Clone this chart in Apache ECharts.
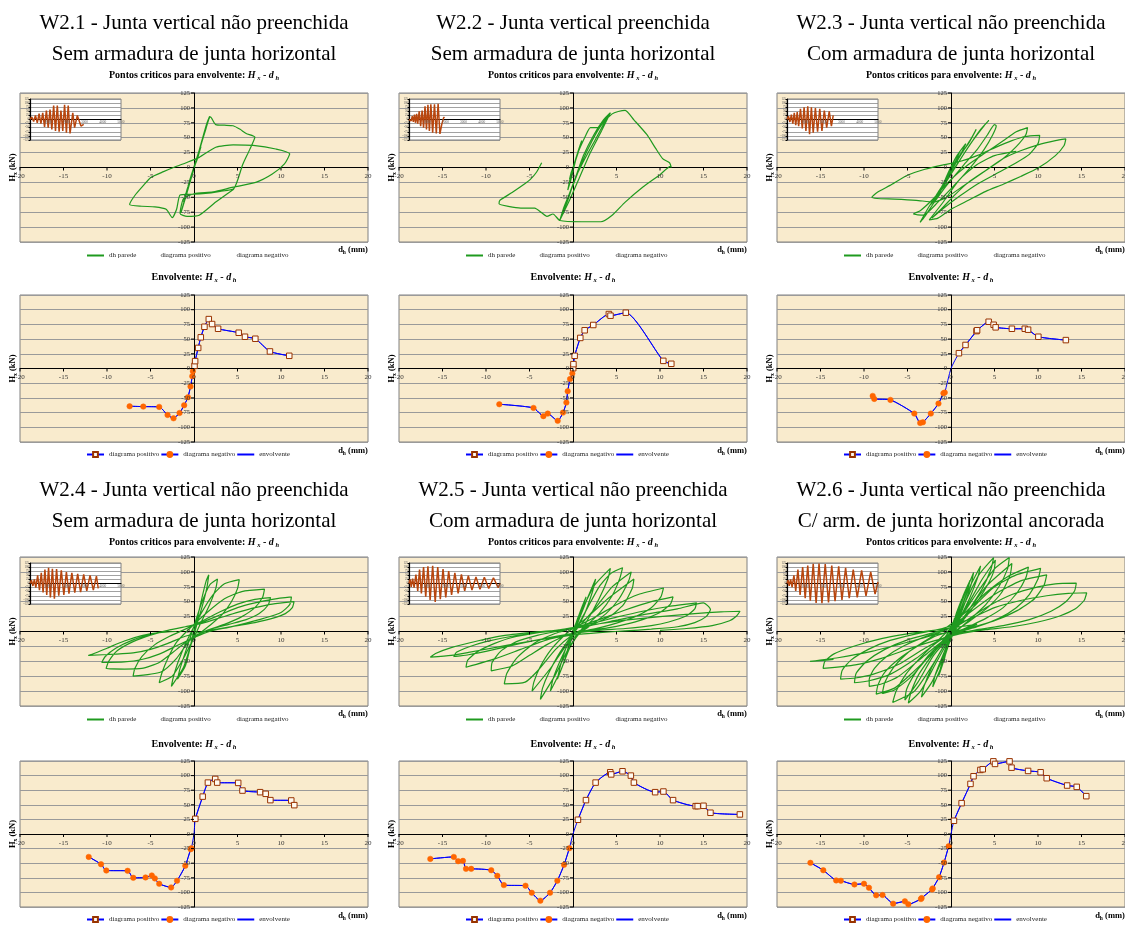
<!DOCTYPE html>
<html><head><meta charset="utf-8">
<script src="https://cdn.jsdelivr.net/npm/echarts@6/dist/echarts.min.js"></script>
<style>html,body{margin:0;padding:0;background:#fff}#c{width:1125px;height:925px}</style>
</head><body><div id="c"></div>
<script>
const F = 'Liberation Serif';
const X_TICKS = [-20,-15,-10,-5,0,5,10,15,20];
const Y_TICKS = [-125,-100,-75,-50,-25,0,25,50,75,100,125];
const INSET_X_TICKS = [0,1000,2000,3000,4000,5000];

const TITLE1 = ['W2.1 - Junta vertical não preenchida','W2.2 - Junta vertical preenchida','W2.3 - Junta vertical não preenchida','W2.4 - Junta vertical não preenchida','W2.5 - Junta vertical não preenchida','W2.6 - Junta vertical não preenchida'];
const TITLE2 = ['Sem armadura de junta horizontal','Sem armadura de junta horizontal','Com armadura de junta horizontal','Sem armadura de junta horizontal','Com armadura de junta horizontal','C/ arm. de junta horizontal ancorada'];
const LEG_TOP = ['dh parede','diagrama positivo ','diagrama negativo '];
const LEG_ENV = ['diagrama positivo','diagrama negativo','envolvente'];

// hysteresis curves dh (mm), H (kN)
const hystW21 = [[0,0],[0.4,15],[0.8,35],[0.3,12],[-0.3,-12],[-0.7,-32],[-0.3,-12],[0.3,12],[1.0,48],[1.4,66],[0.8,38],[-0.2,-8],[-0.8,-40],[-1.2,-58],[-0.7,-32],[0.2,8],[1.0,50],[1.5,75],[1.8,86],[1.3,62],[0.4,18],[-0.5,-25],[-1.1,-55],[-1.5,-76],[-1.0,-52],[-0.2,-12],[0.6,28],[1.3,65],[1.9,85],[2.5,72],[3.5,71],[4.5,70],[5.3,64],[6.0,57],[7.0,51],[6.4,30],[5.6,5],[4.6,-35],[3.0,-40],[1.0,-44],[-0.5,-45],[-1.6,-46],[-2.0,-70],[-2.5,-84],[-3.2,-70],[-4.5,-66],[-6.0,-65],[-7.4,-62],[-6.8,-47],[-5.8,-30],[-5.0,-17],[-3.5,-7],[-2.0,2],[-0.9,8],[0.6,17],[2.5,34],[4.5,38],[6.8,37],[9.4,31],[11.0,23],[10.4,6],[9.0,-11],[7.1,-25],[4.5,-33],[2.2,-41],[0.0,-44],[-1.2,-52],[-1.6,-77],[-0.8,-82],[0.6,-80],[2.5,-58],[4.6,-36]];
const hystW22 = [[0,0],[0.3,12],[0.6,25],[0.2,8],[-0.2,-8],[-0.4,-20],[-0.1,-5],[0.4,18],[1.0,45],[0.6,28],[-0.2,-10],[-0.6,-38],[-0.2,-18],[0.5,22],[1.5,55],[2.0,67],[2.9,67],[3.5,78],[4.2,91],[3.6,75],[2.5,45],[1.2,10],[0.2,-20],[-0.6,-55],[-1.2,-76],[-0.7,-55],[0.2,-20],[1.2,20],[2.4,55],[3.5,80],[4.3,92],[3.3,62],[2.0,25],[0.8,-15],[-0.4,-55],[-1.5,-88],[-1.0,-65],[0,-30],[1.0,8],[2.2,45],[3.3,72],[4.5,90],[5.2,94],[6.0,96],[7.0,80],[8.5,55],[9.5,32],[10.3,15],[11.1,8],[11.3,0],[11.2,2],[10.0,-12],[8.0,-33],[6.0,-58],[4.5,-80],[3.2,-91],[1.0,-91],[-1.5,-89],[-2.3,-78],[-3.0,-82],[-3.6,-76],[-4.4,-68],[-6.0,-68],[-8.5,-61],[-8.4,-55],[-7.0,-42],[-5.5,-27],[-4.9,-20],[-4.2,-8],[-3.6,8]];
const hystW23 = [[0,0],[0.5,15],[1.0,26],[0.5,10],[-0.3,-10],[-0.8,-25],[-0.3,-8],[0.6,18],[1.7,40],[1.2,25],[0.2,0],[-0.8,-28],[-1.4,-42],[-0.7,-22],[0.5,10],[2.0,40],[2.9,64],[2.3,48],[1.0,18],[-0.3,-15],[-1.4,-45],[-2.3,-62],[-1.5,-42],[0,-10],[1.8,30],[3.3,62],[4.35,79],[3.8,70],[2.5,45],[1.0,12],[-0.8,-30],[-2.5,-65],[-3.55,-92],[-3.0,-82],[-2.0,-60],[-0.5,-30],[1.5,5],[3.0,30],[4.2,55],[5.0,72],[5.2,70],[4.8,55],[3.8,30],[2.5,5],[0.5,-28],[-1.5,-58],[-3.2,-80],[-4.3,-78],[-3.5,-72],[-2.0,-52],[0,-20],[2.0,5],[4.0,25],[6.0,45],[7.5,60],[8.8,67],[8.6,55],[7.5,35],[6.0,15],[4.0,-5],[1.5,-30],[-0.5,-50],[-2.0,-58],[-4.0,-55],[-6.5,-53],[-8.5,-52],[-9.1,-50],[-8.5,-42],[-7.0,-30],[-5.0,-13],[-3.0,-3],[-1.0,4],[1.0,10],[3.0,20],[5.0,33],[7.0,45],[8.5,52],[10.2,54],[10.0,40],[9.0,22],[7.5,8],[5.5,-8],[3.0,-28],[1.0,-48],[-1.0,-70],[-2.2,-85],[-1.0,-68],[0.5,-45],[2.0,-25],[4.0,-5],[6.0,15],[8.0,28],[10.0,38],[12.0,45],[13.2,48],[13.0,37],[12.0,20],[10.0,-1],[8.0,-15],[6.0,-28],[4.0,-40],[2.0,-55],[0,-70],[-1.5,-85],[-2.5,-88],[-1.0,-60],[1.0,-20],[3.0,5],[5.0,20],[7.5,27]];
const hystW24 = [[0,0],[0.3,12],[0.6,28],[0.2,10],[-0.2,-10],[-0.4,-24],[-0.1,-8],[0.5,30],[1.0,62],[1.4,85],[1.7,95],[1.5,75],[1.0,45],[0.3,10],[-0.4,-25],[-1.0,-58],[-1.9,-80],[-1.6,-62],[-1.0,-35],[-0.2,0],[0.8,45],[1.8,78],[2.7,88],[2.5,72],[1.8,45],[0.8,15],[-0.3,-20],[-1.2,-60],[-2.6,-92],[-2.4,-78],[-1.8,-50],[-0.8,-15],[0.8,30],[2.2,62],[3.5,80],[5.2,87],[5.0,72],[4.3,50],[3.2,28],[1.8,10],[0,-12],[-1.2,-45],[-2.5,-75],[-4.0,-86],[-3.7,-70],[-3.0,-45],[-2.0,-18],[-0.5,5],[1.5,32],[3.5,55],[5.5,67],[8.1,71],[7.9,58],[7.0,40],[5.5,25],[3.5,12],[1.5,2],[-0.5,-15],[-2.0,-45],[-3.8,-68],[-7.0,-75],[-6.8,-62],[-6.0,-42],[-4.5,-22],[-2.8,-8],[-1.0,4],[1.0,18],[3.0,33],[5.0,46],[7.0,54],[8.8,57],[8.5,44],[7.5,30],[6.0,20],[4.0,12],[2.0,4],[0,-8],[-2.0,-30],[-4.0,-52],[-6.0,-62],[-8.0,-63],[-10.1,-62],[-9.8,-50],[-8.8,-32],[-7.0,-17],[-5.0,-6],[-3.0,2],[-1.0,8],[1.0,16],[3.0,28],[5.0,40],[7.0,48],[9.0,54],[11.2,58],[11.0,45],[10.0,32],[8.0,22],[6.0,14],[4.0,7],[2.0,1],[0,-10],[-2.0,-24],[-4.0,-38],[-6.0,-47],[-8.0,-51],[-10.6,-52],[-10.2,-42],[-9.0,-28],[-7.0,-14],[-5.0,-5],[-3.0,2],[-1.0,8],[1.0,14],[3.0,23],[5.0,32],[7.0,40],[9.0,46],[11.5,50],[11.3,40],[10.5,30],[9.0,22],[7.0,15],[5.0,10],[3.0,5],[1.0,0],[-1.0,-8],[-3.0,-20],[-5.0,-30],[-7.0,-36],[-9.0,-38],[-12.1,-40],[-11.5,-37],[-10.0,-28],[-8.0,-16],[-6.0,-7],[-4.0,-2],[-2.0,0]];
const hystW25 = [[0,0],[0.3,10],[0.6,25],[0.2,8],[-0.2,-8],[-0.4,-24],[-0.1,-8],[0.6,24],[1.0,40],[1.5,58],[1.0,35],[0.2,5],[-0.5,-25],[-1.0,-53],[-0.6,-30],[0.3,5],[1.5,50],[2.6,88],[2.2,65],[1.2,25],[-0.3,-15],[-1.0,-50],[-1.8,-80],[-1.4,-55],[-0.5,-15],[1.0,35],[2.5,78],[4.3,106],[4.0,88],[3.0,55],[1.5,15],[-0.3,-25],[-1.4,-65],[-2.6,-100],[-2.3,-80],[-1.5,-50],[-0.2,-10],[1.5,35],[3.0,75],[4.4,98],[5.7,107],[5.4,90],[4.5,60],[3.0,30],[1.2,5],[-0.5,-28],[-2.0,-72],[-3.75,-114],[-3.5,-95],[-2.8,-70],[-1.5,-35],[0.2,0],[2.5,38],[4.5,75],[6.7,100],[6.4,85],[5.3,55],[3.8,30],[1.8,8],[-0.5,-18],[-2.5,-60],[-4.7,-100],[-4.5,-85],[-3.8,-60],[-2.5,-30],[-0.5,0],[1.5,22],[4.0,55],[7.0,88],[6.8,72],[5.8,45],[4.2,25],[2.0,10],[0,-5],[-2.0,-30],[-4.0,-65],[-5.5,-85],[-7.9,-88],[-7.6,-70],[-6.5,-45],[-4.5,-20],[-2.0,-3],[0,6],[2.5,24],[5.0,45],[7.5,62],[10.4,73],[10.1,58],[9.0,40],[7.0,24],[5.0,14],[3.0,6],[1.0,0],[-1.0,-8],[-3.0,-22],[-5.0,-40],[-7.0,-58],[-9.4,-66],[-9.3,-52],[-8.3,-33],[-6.5,-17],[-4.0,-6],[-2.0,0],[0,5],[3.0,20],[6.0,36],[9.0,50],[11.5,58],[11.2,46],[10.0,32],[8.0,20],[6.0,12],[4.0,6],[2.0,2],[0,-4],[-3.0,-14],[-6.0,-30],[-9.0,-46],[-12.3,-60],[-12.1,-48],[-11.0,-34],[-9.0,-20],[-7.0,-10],[-4.0,-2],[-1.0,4],[2.0,13],[5.0,24],[8.0,34],[11.0,42],[14.2,48],[14.0,38],[13.0,26],[11.0,16],[9.0,10],[6.0,5],[3.0,2],[0,-3],[-3.0,-11],[-6.0,-20],[-9.0,-30],[-12.0,-39],[-13.7,-42],[-13.4,-35],[-12.0,-26],[-10.0,-17],[-7.0,-8],[-4.0,-2],[-1.0,3],[2.0,10],[5.0,19],[8.0,28],[12.0,38],[15.0,48],[15.8,37],[15.3,25],[14.0,15],[12.0,8],[9.0,4],[6.0,1],[3.0,-2],[0,-6],[-3.0,-12],[-6.0,-19],[-9.0,-27],[-12.0,-35],[-14.0,-40],[-16.4,-43],[-15.8,-37],[-14.0,-27],[-11.0,-16],[-8.0,-7],[-5.0,-2],[-2.0,2],[0,6],[3.0,13],[6.0,19],[10.0,25],[14.0,30],[17.0,33],[19.2,34],[18.8,26],[18.0,18],[16.0,10],[13.0,5],[10.0,2]];
const hystW26 = [[0,0],[0.2,10],[0.4,22],[0.1,8],[-0.2,-10],[-0.3,-21],[-0.1,-8],[0.6,30],[1.2,53],[0.8,35],[0,5],[-0.5,-25],[-0.8,-49],[-0.4,-25],[0.5,20],[1.4,60],[2.2,86],[1.8,65],[0.8,25],[-0.3,-20],[-0.9,-52],[-1.4,-74],[-1.0,-50],[0.1,-5],[1.2,48],[2.6,99],[2.3,78],[1.4,40],[0,-10],[-1.0,-55],[-2.1,-93],[-1.8,-72],[-0.8,-35],[0.6,15],[2.0,70],[3.4,110],[3.1,92],[2.2,58],[0.8,15],[-0.8,-40],[-2.2,-85],[-3.4,-110],[-3.1,-92],[-2.2,-60],[-0.5,-15],[1.5,45],[3.2,95],[4.9,124],[4.6,105],[3.6,72],[2.0,35],[0,-8],[-1.8,-55],[-3.5,-100],[-4.9,-120],[-4.6,-102],[-3.7,-72],[-2.2,-40],[-0.3,-2],[1.8,42],[3.6,88],[5.1,120],[4.9,100],[3.8,68],[2.0,30],[-0.2,-10],[-2.2,-58],[-4.2,-100],[-6.7,-119],[-6.3,-100],[-5.2,-72],[-3.6,-45],[-1.5,-15],[0.8,18],[3.0,65],[5.0,105],[6.7,124],[6.5,105],[5.5,75],[4.0,45],[2.0,18],[0,-8],[-2.0,-40],[-3.8,-85],[-5.3,-115],[-5.1,-97],[-4.2,-72],[-2.7,-42],[-0.7,-12],[1.5,25],[4.0,75],[7.0,114],[6.8,95],[5.8,65],[4.2,40],[2.2,18],[0,-4],[-2.0,-32],[-4.5,-75],[-6.5,-98],[-7.9,-104],[-7.6,-85],[-6.6,-60],[-5.0,-36],[-3.0,-16],[-1.0,2],[1.5,30],[4.0,65],[6.5,92],[8.9,108],[8.6,90],[7.6,65],[6.0,40],[4.0,22],[2.0,8],[0,-6],[-2.0,-35],[-4.5,-70],[-6.5,-95],[-8.6,-105],[-8.4,-90],[-7.6,-68],[-6.0,-46],[-4.0,-26],[-2.0,-9],[0,2],[2.5,40],[5.0,75],[7.5,95],[10.3,106],[10.0,88],[9.0,62],[7.5,40],[5.5,22],[3.0,8],[0,-6],[-3.0,-40],[-6.0,-75],[-8.0,-88],[-9.4,-92],[-9.4,-80],[-8.8,-62],[-7.4,-42],[-5.4,-24],[-3.0,-9],[-0.5,3],[2.0,30],[5.0,62],[8.0,85],[11.0,95],[10.7,78],[9.6,55],[7.6,35],[5.0,18],[2.0,5],[-1.0,-12],[-4.0,-45],[-7.0,-72],[-9.5,-83],[-11.1,-86],[-10.9,-70],[-9.7,-50],[-7.6,-30],[-5.0,-14],[-2.0,-2],[1.0,12],[4.0,40],[7.0,62],[10.0,75],[12.0,80],[14.4,81],[14.2,68],[13.2,50],[11.5,34],[9.0,20],[6.0,10],[3.0,3],[0,-6],[-3.0,-28],[-6.0,-55],[-9.0,-72],[-11.0,-78],[-12.7,-80],[-12.5,-65],[-11.5,-48],[-9.5,-30],[-7.0,-15],[-4.0,-4],[-1.0,5],[2.0,20],[5.0,40],[8.0,52],[11.0,60],[13.5,64],[15.6,65],[15.3,52],[14.3,38],[12.5,26],[10.0,16],[7.0,8],[4.0,3],[1.0,-4],[-4.0,-25],[-8.0,-45],[-11.0,-56],[-14.7,-62],[-14.5,-50],[-13.5,-38],[-11.0,-24],[-8.0,-12],[-5.0,-4],[-2.0,2],[1.0,8],[3.0,12],[1.0,2],[-2.0,-6],[-5.0,-18],[-9.0,-33],[-13.0,-44],[-16.2,-50],[-15.0,-49],[-13.5,-47]];

// envelope points (critical points), ordered outward from the origin
const envPosW21 = [[0.06,4.5],[0.13,12.5],[0.48,35],[0.78,53],[1.2,71],[1.7,84],[2.08,75.6],[2.77,67.6],[5.14,60.8],[5.86,54],[7.05,50.6],[8.73,29],[10.95,21.6]];
const envNegW21 = [[-0.13,-4.5],[-0.2,-13],[-0.4,-30.7],[-0.7,-49],[-1.13,-62.5],[-1.66,-75.6],[-2.35,-84.7],[-3.04,-79],[-4.0,-65.3],[-5.83,-64.8],[-7.4,-64.2]];
const envPosW22 = [[0.02,0.5],[0.05,7.4],[0.19,21.6],[0.84,52],[1.34,65],[2.33,74],[4.12,92.6],[4.31,89.8],[6.07,94.9],[10.38,13],[11.3,8]];
const envNegW22 = [[-0.08,-8.5],[-0.34,-18],[-0.61,-38.6],[-0.76,-58],[-1.15,-75],[-1.76,-89],[-2.9,-76.7],[-3.4,-81],[-4.54,-67],[-8.47,-60.8]];
const envPosW23 = [[0.91,26],[1.67,40],[2.93,63.6],[3.0,65],[4.33,79.5],[4.9,74.4],[5.13,70],[7.0,67.6],[8.48,67.6],[8.86,66],[10.04,54],[13.2,48.3]];
const envNegW23 = [[-0.72,-41],[-0.87,-42],[-1.44,-59.7],[-2.32,-76.7],[-3.23,-91.5],[-3.54,-92.6],[-4.22,-76.7],[-6.96,-53.4],[-8.82,-51.7],[-9.0,-46.6]];
const envPosW24 = [[0.15,26],[1.0,64],[1.6,88],[2.44,94.3],[2.67,88],[5.08,87.5],[5.57,74.4],[7.6,71.6],[8.24,68.8],[8.78,58],[11.18,57.4],[11.53,49.4]];
const envNegW24 = [[-0.3,-24.4],[-0.38,-26],[-1.0,-54.5],[-1.95,-80],[-2.63,-91.5],[-4.0,-85.2],[-4.5,-76],[-4.85,-71],[-5.57,-74.4],[-6.98,-75],[-7.63,-63],[-10.08,-62.5],[-10.69,-51.7],[-12.1,-39.2]];
const envPosW25 = [[0.57,24.4],[1.49,58],[2.6,88],[4.28,105.7],[4.39,102],[5.69,107.4],[6.65,100],[7.0,88],[9.44,71.6],[10.39,72.7],[11.5,58],[14.1,47.7],[14.33,47.7],[15.0,48.3],[15.8,36.4],[19.18,33.5]];
const envNegW25 = [[-0.42,-24.4],[-1.03,-52.8],[-1.8,-80],[-2.64,-100.6],[-3.75,-114.2],[-4.74,-100.6],[-5.46,-88.6],[-7.95,-87.5],[-8.7,-71.6],[-9.4,-62],[-11.7,-59.7],[-12.3,-59.7],[-12.65,-46],[-13.2,-46.6],[-13.7,-39.2],[-16.4,-42.6]];
const envPosW26 = [[0.34,22.7],[1.22,52.8],[2.24,85.8],[2.59,98.9],[3.38,109.7],[3.65,110.8],[4.87,124.4],[5.06,120],[6.73,124.4],[6.96,113.6],[8.86,108],[10.3,105.7],[11.0,95.5],[13.35,83],[14.45,80.7],[15.55,64.8]];
const envNegW26 = [[-0.27,-21],[-0.8,-48.9],[-1.37,-73.9],[-2.1,-93.2],[-2.17,-95],[-3.38,-109.7],[-3.46,-111.4],[-4.9,-120.5],[-5.3,-115.3],[-6.65,-119.3],[-7.87,-104.5],[-8.6,-105],[-9.43,-92],[-10.0,-85.2],[-11.1,-86.4],[-12.66,-80],[-13.2,-79.5],[-14.68,-62],[-16.16,-49.4]];

// inset: load history (step, H kN)
const insetW21 = [[0,0],[100,15],[200,-12],[300,25],[400,-20],[500,35],[600,-25],[700,40],[800,-45],[900,55],[1000,-50],[1100,60],[1200,-60],[1300,85],[1400,-70],[1500,85],[1600,-75],[1700,55],[1800,-70],[1900,90],[2000,-80],[2100,85],[2200,-85],[2350,40],[2450,-50],[2600,25],[2800,-40],[2950,-30]];
const insetW22 = [[0,0],[60,10],[120,-8],[180,20],[240,-15],[300,30],[360,-20],[420,35],[480,-25],[560,50],[640,-40],[720,55],[800,-50],[880,80],[960,-60],[1040,90],[1120,-70],[1200,92],[1300,-80],[1400,92],[1500,-85],[1600,95],[1700,-88],[1800,-30],[1900,10],[1950,15]];
const insetW23 = [[0,0],[80,20],[160,-15],[240,30],[320,-25],[400,40],[480,-35],[560,45],[640,-40],[740,65],[840,-55],[940,75],[1040,-70],[1140,80],[1240,-90],[1340,75],[1440,-80],[1560,70],[1680,-75],[1800,65],[1920,-70],[2050,55],[2180,-50],[2320,50],[2440,-40],[2540,25]];
const insetW24 = [[0,0],[80,20],[160,-15],[240,25],[320,-25],[420,50],[520,-40],[620,65],[720,-55],[820,85],[920,-70],[1020,95],[1120,-85],[1230,90],[1340,-92],[1460,88],[1580,-75],[1720,80],[1860,-70],[2000,70],[2140,-62],[2300,65],[2460,-55],[2620,58],[2780,-52],[2950,55],[3120,-45],[3300,50],[3480,-40],[3650,45],[3750,-30]];
const insetW25 = [[0,0],[60,25],[120,-20],[200,30],[280,-25],[380,55],[480,-45],[580,85],[680,-60],[800,100],[920,-80],[1040,105],[1160,-100],[1300,108],[1440,-112],[1580,100],[1720,-95],[1870,88],[2020,-85],[2180,75],[2340,-70],[2520,65],[2700,-60],[2880,55],[3060,-45],[3260,48],[3460,-40],[3680,40],[3900,-35],[4140,38],[4380,-30],[4640,35],[4900,-25],[5000,0]];
const insetW26 = [[0,0],[60,20],[120,-15],[200,25],[280,-22],[380,50],[480,-45],[600,85],[720,-70],[860,100],[1000,-90],[1140,110],[1280,-105],[1440,120],[1600,-118],[1760,122],[1920,-120],[2100,118],[2280,-115],[2460,110],[2640,-108],[2840,105],[3020,-100],[3220,95],[3420,-90],[3640,85],[3860,-85],[4100,80],[4340,-75],[4600,70],[4840,-65],[5000,10]];

const HYST = [hystW21,hystW22,hystW23,hystW24,hystW25,hystW26];
const ENV_POS = [envPosW21,envPosW22,envPosW23,envPosW24,envPosW25,envPosW26];
const ENV_NEG = [envNegW21,envNegW22,envNegW23,envNegW24,envNegW25,envNegW26];
const INSET = [insetW21,insetW22,insetW23,insetW24,insetW25,insetW26];

// ---- layout & style ----
const GREEN = '#1f9a1f', BLUE = '#0000ff', BG = '#F9EBCD', GRIDC = '#9a9a9a';
const COL_LEFT = [20,399,777], PLOT_W = 348;
const BLOCK = [
  {hTop:93, hH:149, eTop:295, eH:147, t1:23, t2:54, t3:75, tEnv:277},
  {hTop:557, hH:149, eTop:761, eH:146, t1:490, t2:521, t3:542, tEnv:744}
];

const grids=[], xAxes=[], yAxes=[], series=[], legends=[], graphics=[];
const RICH = {
  n:{fontFamily:F,fontWeight:'bold',fontSize:10,lineHeight:13,fill:'#000',verticalAlign:'middle'},
  i:{fontFamily:F,fontWeight:'bold',fontStyle:'italic',fontSize:10,lineHeight:13,fill:'#000',verticalAlign:'middle'},
  s:{fontFamily:F,fontWeight:'bold',fontStyle:'italic',fontSize:6.5,lineHeight:13,fill:'#000',verticalAlign:'bottom'},
  a:{fontFamily:F,fontWeight:'bold',fontSize:8.5,lineHeight:11,fill:'#000',verticalAlign:'middle'},
  as:{fontFamily:F,fontWeight:'bold',fontSize:5.5,lineHeight:11,fill:'#000',verticalAlign:'bottom'}
};
function txt(x,y,text,opt){
  opt = opt||{};
  const al = opt.align||'center';
  graphics.push({type:'text', x:x, y:y, rotation:opt.rot||0, z:20, silent:true,
    style:{text:text, rich:opt.rich?RICH:undefined, fontFamily:F, fontSize:opt.size||9, fontWeight:opt.weight||'normal',
      fill:opt.color||'#000', align:al, verticalAlign:'middle', textAlign:al, textVerticalAlign:'middle'}});
}
function seg(x1,y1,x2,y2,w,c){
  graphics.push({type:'line', z:20, silent:true, shape:{x1:x1,y1:y1,x2:x2,y2:y2}, style:{stroke:c||'#000', lineWidth:w||1}});
}
function mainGrid(l,t,h){
  return {left:l, top:t, width:PLOT_W, height:h, show:true, backgroundColor:BG, borderColor:'#808080', borderWidth:1, z:0, outerBoundsMode:'none', containLabel:false};
}
function mainX(gi){
  return {type:'value', gridIndex:gi, min:X_TICKS[0], max:X_TICKS[X_TICKS.length-1], interval:X_TICKS[1]-X_TICKS[0], z:1,
    axisLine:{show:true, onZero:true, lineStyle:{color:'#000', width:1}},
    axisTick:{show:false}, axisLabel:{show:false}, splitLine:{show:false}};
}
function mainY(gi){
  return {type:'value', gridIndex:gi, min:Y_TICKS[0], max:Y_TICKS[Y_TICKS.length-1], interval:Y_TICKS[1]-Y_TICKS[0], z:1,
    axisLine:{show:true, onZero:true, lineStyle:{color:'#000', width:1}},
    axisTick:{show:false}, axisLabel:{show:false},
    splitLine:{show:true, lineStyle:{color:GRIDC, width:1}}};
}

for (let p=0;p<6;p++){
  const col=p%3, b=Math.floor(p/3), L=COL_LEFT[col], B=BLOCK[b];
  const gH=3*p, gE=3*p+1, gI=3*p+2;
  grids.push(mainGrid(L,B.hTop,B.hH));
  grids.push(mainGrid(L,B.eTop,B.eH));
  grids.push({left:L+10, top:B.hTop+6, width:91, height:41, show:true, backgroundColor:'#fff', borderColor:'#808080', borderWidth:1, z:5, outerBoundsMode:'none', containLabel:false});
  xAxes.push(mainX(gH)); yAxes.push(mainY(gH));
  xAxes.push(mainX(gE)); yAxes.push(mainY(gE));
  xAxes.push({type:'value', gridIndex:gI, min:INSET_X_TICKS[0], max:INSET_X_TICKS[INSET_X_TICKS.length-1], interval:INSET_X_TICKS[1]-INSET_X_TICKS[0], z:6,
    axisLine:{onZero:true, lineStyle:{color:'#000', width:1}}, axisTick:{show:false}, axisLabel:{show:false}, splitLine:{show:false}});
  yAxes.push({type:'value', gridIndex:gI, min:Y_TICKS[0], max:Y_TICKS[Y_TICKS.length-1], interval:Y_TICKS[1]-Y_TICKS[0], z:6,
    axisLine:{onZero:false, lineStyle:{color:'#000', width:1.2}}, axisTick:{show:true, length:1.5, lineStyle:{color:'#000'}},
    axisLabel:{fontFamily:F, fontSize:3, color:'#555', margin:1}, splitLine:{show:true, lineStyle:{color:'#8a8a8a', width:0.8}}});

  series.push({name:'dh parede', type:'line', xAxisIndex:gH, yAxisIndex:gH, data:HYST[p], symbol:'circle', showSymbol:false, smooth:0.2,
    lineStyle:{color:GREEN, width:1.2}, itemStyle:{color:GREEN, opacity:0}, z:3, silent:true});
  series.push({name:'diagrama positivo ', type:'line', xAxisIndex:gH, yAxisIndex:gH, data:[], symbol:'none',
    lineStyle:{color:'rgba(0,0,0,0)'}, itemStyle:{color:'rgba(0,0,0,0)'}});
  series.push({name:'diagrama negativo ', type:'line', xAxisIndex:gH, yAxisIndex:gH, data:[], symbol:'none',
    lineStyle:{color:'rgba(0,0,0,0)'}, itemStyle:{color:'rgba(0,0,0,0)'}});

  const envLine = ENV_NEG[p].slice().reverse().concat([[0,0]]).concat(ENV_POS[p]);
  series.push({name:'envolvente', type:'line', xAxisIndex:gE, yAxisIndex:gE, data:envLine, symbol:'circle', showSymbol:false, smooth:0.2,
    lineStyle:{color:BLUE, width:1}, itemStyle:{color:BLUE, opacity:0}, z:3, silent:true});
  series.push({name:'diagrama positivo', type:'line', xAxisIndex:gE, yAxisIndex:gE, data:ENV_POS[p], symbol:'rect', symbolSize:5.5,
    showSymbol:true, showAllSymbol:true, smooth:0.2,
    lineStyle:{color:BLUE, width:1}, itemStyle:{color:'#fffaf0', borderColor:'#993300', borderWidth:1}, z:4, silent:true});
  series.push({name:'diagrama negativo', type:'line', xAxisIndex:gE, yAxisIndex:gE, data:ENV_NEG[p], symbol:'circle', symbolSize:5.5,
    showSymbol:true, showAllSymbol:true, smooth:0.2,
    lineStyle:{color:BLUE, width:1}, itemStyle:{color:'#ff6600', borderColor:'#ff6600', borderWidth:0.5}, z:4, silent:true});

  series.push({name:'_inset', type:'line', xAxisIndex:gI, yAxisIndex:gI, data:INSET[p], symbol:'none',
    lineStyle:{color:'#b8460e', width:1.5}, z:7, silent:true});

  const legCommon = {selectedMode:false, itemWidth:17, itemHeight:6, itemGap:1, padding:0,
    textStyle:{fontFamily:F, fontSize:7, color:'#222'}};
  legends.push(Object.assign({left:L+66, top:B.hTop+B.hH+10, data:LEG_TOP}, legCommon));
  legends.push(Object.assign({left:L+66, top:B.eTop+B.eH+9, data:LEG_ENV}, legCommon));

  const cx = L+PLOT_W/2;
  txt(cx, B.t1, TITLE1[p], {size:21});
  txt(cx, B.t2, TITLE2[p], {size:21});
  txt(cx, B.t3, '{n|Pontos criticos para envolvente: }{i|H}{s| x}{n| - }{i|d}{s| h}', {rich:true});
  txt(cx, B.tEnv, '{n|Envolvente: }{i|H}{s| x}{n| - }{i|d}{s| h}', {rich:true});
  txt(L-7, B.hTop+B.hH/2, '{a|H}{as|x}{a| (kN)}', {rich:true, rot:Math.PI/2});
  txt(L-7, B.eTop+B.eH/2, '{a|H}{as|x}{a| (kN)}', {rich:true, rot:Math.PI/2});
  txt(L+333, B.hTop+B.hH+8, '{a|d}{as|h}{a| (mm)}', {rich:true});
  txt(L+333, B.eTop+B.eH+9, '{a|d}{as|h}{a| (mm)}', {rich:true});
}

const chart = echarts.init(document.getElementById('c'), null, {renderer:'canvas', width:1125, height:925});
const option = {animation:false, backgroundColor:'#fff',
  grid:grids, xAxis:xAxes, yAxis:yAxes, series:series, legend:legends, graphic:graphics};
chart.setOption(option);

// tick labels placed on the zero lines, positioned through the library's scales
for (let p=0;p<6;p++){
  [3*p, 3*p+1].forEach(function(gi){
    X_TICKS.forEach(function(v){
      const pt = chart.convertToPixel({gridIndex:gi}, [v,0]);
      seg(pt[0], pt[1], pt[0], pt[1]+3, 1);
      txt(pt[0], pt[1]+9, String(v), {size:7, color:'#333'});
    });
    Y_TICKS.forEach(function(v){
      const pt = chart.convertToPixel({gridIndex:gi}, [0,v]);
      seg(pt[0]-3, pt[1], pt[0], pt[1], 1);
      txt(pt[0]-4, pt[1], String(v), {size:6.5, color:'#333', align:'right'});
    });
  });
  const gI = 3*p+2;
  INSET_X_TICKS.slice(1).forEach(function(v){
    const pt = chart.convertToPixel({gridIndex:gI}, [v,0]);
    txt(pt[0], pt[1]+3, String(v), {size:3.5, color:'#666'});
  });
}
chart.setOption({graphic:graphics});
</script></body></html>
